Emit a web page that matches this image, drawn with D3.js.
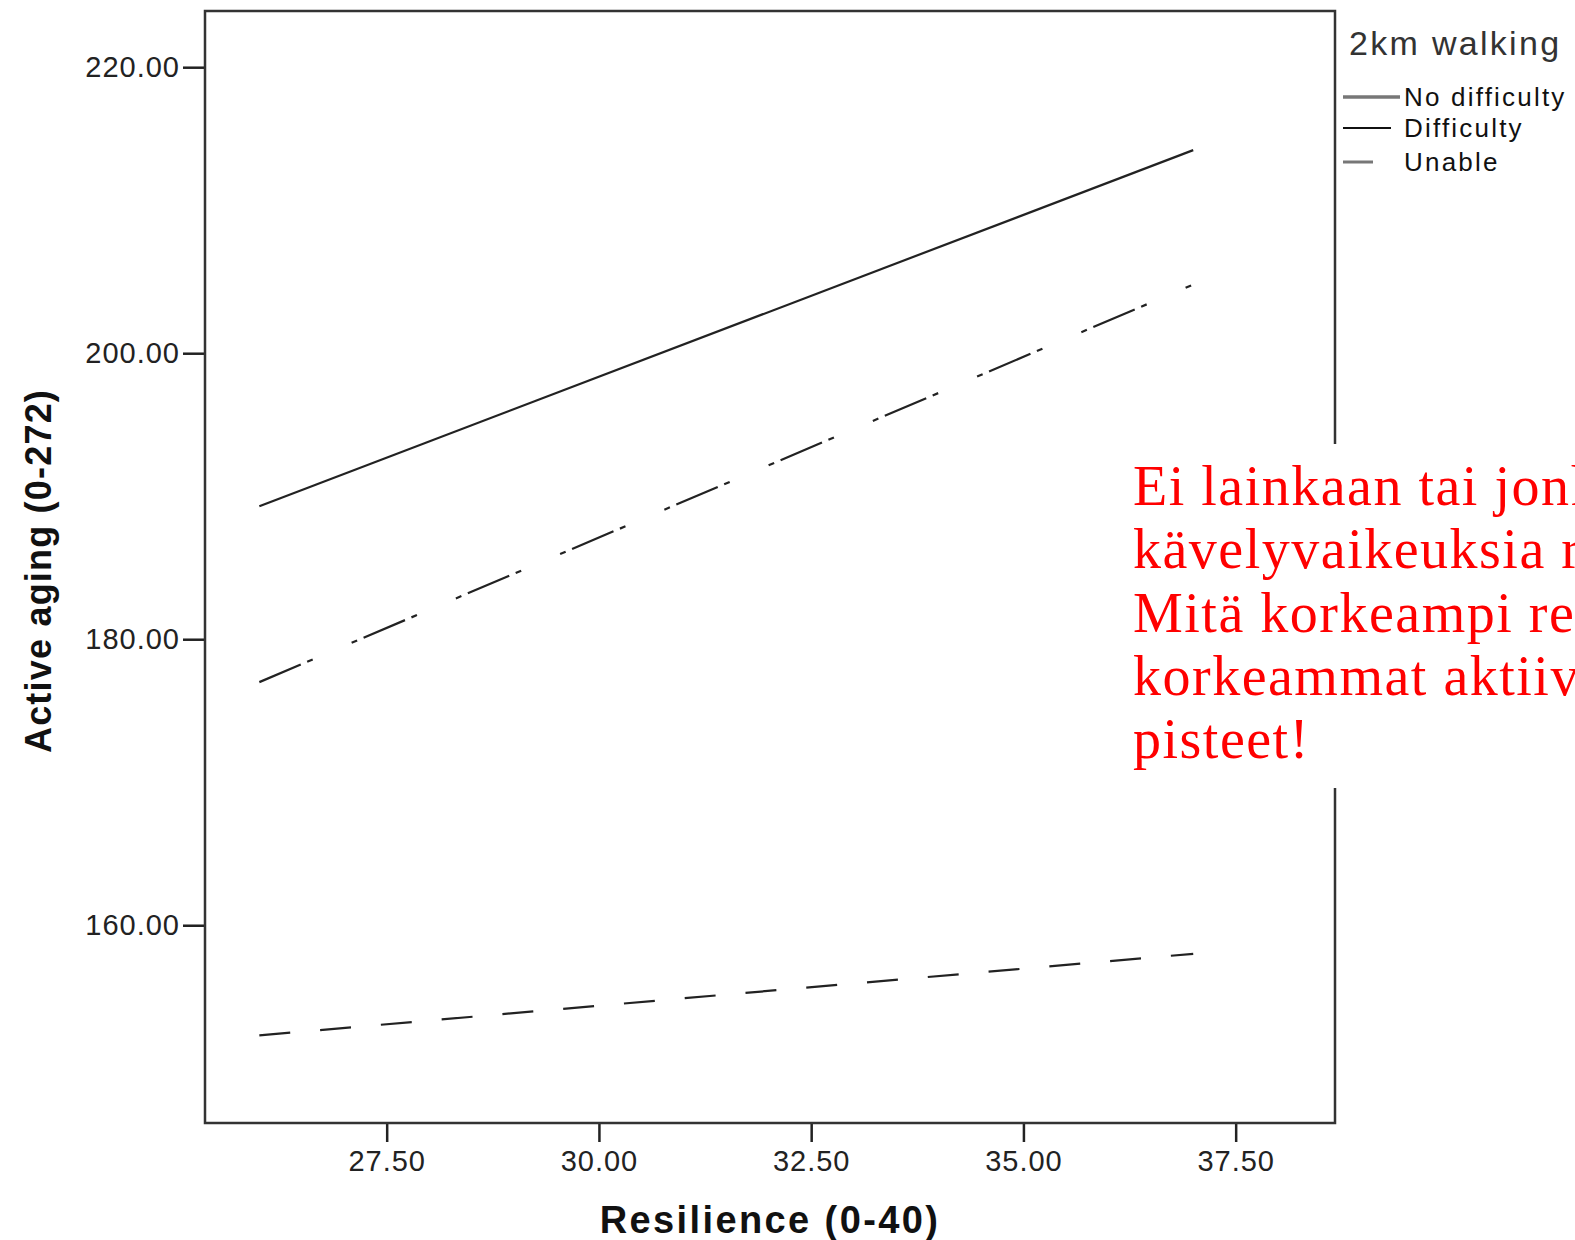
<!DOCTYPE html>
<html>
<head>
<meta charset="utf-8">
<script src="https://cdn.jsdelivr.net/npm/d3@7"></script>
<style>
  body { margin: 0; background: #fff; overflow: hidden; }
  svg { display: block; }
</style>
</head>
<body>
<div class="chart"></div>
<script>
// --- DATA --- //
const groups = ["No difficulty", "Difficulty", "Unable"];
const resilience = [26, 37];
const noDifficulty = [189.3, 214.2];
const difficulty = [177.0, 204.8];
const unable = [152.3, 158.0];
const yTicks = [160, 180, 200, 220];
const xTicks = [27.5, 30, 32.5, 35, 37.5];
const noteLines = [
    "Ei lainkaan tai jonkin verran",
    "kävelyvaikeuksia raportoineet:",
    "Mitä korkeampi resilienssi, sitä",
    "korkeammat aktiivisen ikääntymisen",
    "pisteet!"
];

const width = 1575;
const height = 1240;
const frame = {left: 205, right: 1335, top: 11, bottom: 1123};
const sans = 'Liberation Sans, Arial, sans-serif';

const svg = d3.select('.chart').append('svg')
    .attr('width', width)
    .attr('height', height)
    .attr('viewBox', [0, 0, width, height]);

// scales
const x = d3.scaleLinear()
    .domain([25.36, 38.67])
    .range([frame.left, frame.right]);

const y = d3.scaleLinear()
    .domain([146.17, 223.93])
    .range([frame.bottom, frame.top]);

const series = [
    {name: groups[0], values: noDifficulty, dash: null},
    {name: groups[1], values: difficulty, dash: "45,7,6,42.3,6,7"},
    {name: groups[2], values: unable, dash: "31,30"}
];

// --- AXES --- //
svg.append('g')
    .attr('transform', `translate(${frame.left},0)`)
    .call(d3.axisLeft(y).tickValues(yTicks).tickFormat(d3.format('.2f')).tickSize(22).tickPadding(3))
    .call(g => g.select('.domain').remove())
    .call(g => g.selectAll('line').attr('stroke', '#222').attr('stroke-width', 2.5))
    .call(g => g.selectAll('text')
        .attr('font-family', sans)
        .attr('font-size', 29)
        .attr('letter-spacing', 1)
        .attr('fill', '#222'));

svg.append('g')
    .attr('transform', `translate(0,${frame.bottom})`)
    .call(d3.axisBottom(x).tickValues(xTicks).tickFormat(d3.format('.2f')).tickSize(19).tickPadding(8))
    .call(g => g.select('.domain').remove())
    .call(g => g.selectAll('line').attr('stroke', '#222').attr('stroke-width', 2.5))
    .call(g => g.selectAll('text')
        .attr('font-family', sans)
        .attr('font-size', 29)
        .attr('letter-spacing', 1)
        .attr('fill', '#222'));

// plot frame
svg.append('rect')
    .attr('x', frame.left)
    .attr('y', frame.top)
    .attr('width', frame.right - frame.left)
    .attr('height', frame.bottom - frame.top)
    .attr('fill', 'none')
    .attr('stroke', '#333')
    .attr('stroke-width', 2.5);

// --- LINES --- //
const line = d3.line()
    .x((d, i) => x(resilience[i]))
    .y(d => y(d));

svg.selectAll('.fit')
    .data(series)
    .join('path')
    .attr('class', 'fit')
    .attr('d', d => line(d.values))
    .attr('fill', 'none')
    .attr('stroke', '#222')
    .attr('stroke-width', 2.2)
    .attr('stroke-dasharray', d => d.dash);

// axis titles
svg.append('text')
    .attr('x', 770)
    .attr('y', 1233)
    .attr('text-anchor', 'middle')
    .attr('font-family', sans)
    .attr('font-weight', 'bold')
    .attr('font-size', 38)
    .attr('letter-spacing', 2.4)
    .attr('fill', '#111')
    .text('Resilience (0-40)');

svg.append('text')
    .attr('transform', 'translate(51,571) rotate(-90)')
    .attr('text-anchor', 'middle')
    .attr('font-family', sans)
    .attr('font-weight', 'bold')
    .attr('font-size', 36)
    .attr('letter-spacing', 1.2)
    .attr('fill', '#111')
    .text('Active aging (0-272)');

// --- LEGEND --- //
const legend = svg.append('g');
legend.append('text')
    .attr('x', 1349)
    .attr('y', 55)
    .attr('font-family', sans)
    .attr('font-size', 34)
    .attr('letter-spacing', 2.3)
    .attr('fill', '#333')
    .text('2km walking');

const legendItems = [
    {name: groups[0], y: 97, x2: 1400, color: '#777', w: 3.5},
    {name: groups[1], y: 128, x2: 1391, color: '#111', w: 2},
    {name: groups[2], y: 162, x2: 1373, color: '#777', w: 3}
];

legend.selectAll('line')
    .data(legendItems)
    .join('line')
    .attr('x1', 1343)
    .attr('x2', d => d.x2)
    .attr('y1', d => d.y)
    .attr('y2', d => d.y)
    .attr('stroke', d => d.color)
    .attr('stroke-width', d => d.w);

legend.selectAll('.item')
    .data(legendItems)
    .join('text')
    .attr('class', 'item')
    .attr('x', 1404)
    .attr('y', d => d.y + 9)
    .attr('font-family', sans)
    .attr('font-size', 26)
    .attr('letter-spacing', 2.2)
    .attr('fill', '#111')
    .text(d => d.name);

// --- NOTE BOX --- //
svg.append('rect')
    .attr('x', 1112)
    .attr('y', 444)
    .attr('width', width - 1112)
    .attr('height', 344)
    .attr('fill', '#fff');

svg.append('g')
    .selectAll('text')
    .data(noteLines)
    .join('text')
    .attr('x', 1133)
    .attr('y', (d, i) => 505 + i * 63.3)
    .attr('font-family', 'Liberation Serif, Times New Roman, serif')
    .attr('font-size', 56)
    .attr('letter-spacing', 1.5)
    .attr('fill', '#ff0000')
    .text(d => d);
</script>
</body>
</html>
